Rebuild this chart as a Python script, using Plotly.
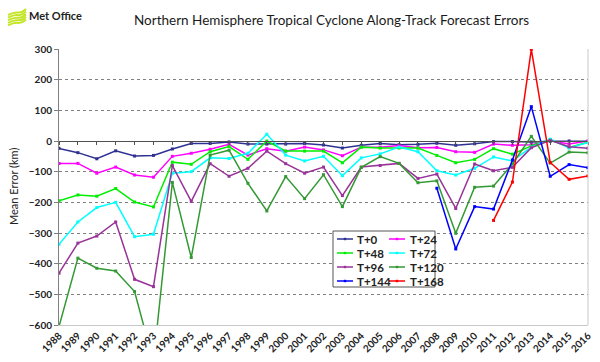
import plotly.graph_objects as go

years = [str(y) for y in range(1988, 2017)]
series_names = ["T+0", "T+24", "T+48", "T+72", "T+96", "T+120", "T+144", "T+168"]
series_colors = ["#2E3192", "#FF00FF", "#00EE00", "#00FFFF", "#993399", "#339933", "#0000FF", "#FF0000"]

t0 = [-24, -38, -58, -32, -49, -47, -26, -8, -8, -3, -10, -10, -10, -8, -13, -23, -14, -8, -12, -11,
      -7, -14, -9, -2, -2, -3, -1, 0, -1]
t24 = [-73, -73, -105, -85, -111, -118, -50, -40, -27, -11, -46, -25, -33, -20, -29, -48, -20, -20, -15, -22,
       -21, -35, -37, -10, -14, -12, 1, -10, 0]
t48 = [-195, -176, -180, -155, -199, -215, -69, -76, -35, -18, -60, 0, -33, -33, -33, -71, -20, -23, -23, -23,
       -47, -71, -60, -25, -43, -16, 5, -21, -4]
t72 = [-337, -264, -217, -200, -312, -304, -105, -100, -55, -57, -40, 22, -46, -65, -50, -113, -55, -42, -20, -35,
       -97, -111, -89, -52, -65, -20, 6, -23, -5]
t96 = [-431, -333, -310, -264, -451, -475, -80, -197, -74, -115, -89, -33, -74, -105, -85, -178, -85, -80, -73, -122,
       -108, -220, -75, -97, -86, -22, 2, -19, -24]
t120 = [-605, -382, -415, -424, -491, -720, -135, -380, -46, -30, -138, -228, -116, -188, -110, -214, -86, -51, -73, -136,
        -130, -301, -151, -147, -75, 15, -72, -36, -38]
t144 = [None] * 20 + [-154, -352, -214, -222, -62, 112, -115, -77, -87]
t168 = [None] * 23 + [-259, -134, 299, -70, -125, -114]
series_values = [t0, t24, t48, t72, t96, t120, t144, t168]

y_ticks = list(range(-600, 301, 100))

title_text = "Northern Hemisphere Tropical Cyclone Along-Track Forecast Errors"
y_title = "Mean Error (km)"
logo_text = "Met Office"

# pixel geometry of the plot area
W, H = 600, 362
L, R, T, B = 59, 588, 49, 325


def px(x):
    return (x - L) / (R - L)


def py(y):
    return (B - y) / (B - T)


FONT = "Lato, 'Open Sans', sans-serif"

fig = go.Figure()
for i, (name, vals, col) in enumerate(zip(series_names, series_values, series_colors)):
    fig.add_trace(go.Scatter(
        x=years, y=vals, name=name, mode="lines+markers",
        line=dict(color=col, width=1.5),
        marker=dict(color=col, size=3, symbol="square"),
        xaxis="x2" if i == len(series_names) - 1 else "x",
        connectgaps=False, showlegend=False, cliponaxis=True,
    ))

shapes = []
annotations = []

# right border of plot area
shapes.append(dict(type="line", xref="paper", yref="paper", x0=1, x1=1, y0=0, y1=1,
                   line=dict(color="#C8C8C8", width=1)))

# manual legend (2 columns x 4 rows)
shapes.append(dict(type="rect", xref="paper", yref="paper", layer="above",
                   x0=px(333), x1=px(435), y0=py(287), y1=py(231),
                   fillcolor="white", line=dict(color="#555555", width=1)))
row_y = [239, 253, 267, 281]
col_x = [(337, 353, 355), (389, 405, 408)]
for i, (name, col) in enumerate(zip(series_names, series_colors)):
    r, c = divmod(i, 2)
    x0, x1, xt = col_x[c]
    yy = row_y[r]
    shapes.append(dict(type="line", xref="paper", yref="paper", layer="above",
                       x0=px(x0), x1=px(x1), y0=py(yy), y1=py(yy),
                       line=dict(color=col, width=1.5)))
    shapes.append(dict(type="rect", xref="paper", yref="paper", layer="above",
                       x0=px((x0 + x1) / 2 - 1.2), x1=px((x0 + x1) / 2 + 1.2),
                       y0=py(yy + 1.2), y1=py(yy - 1.2),
                       fillcolor=col, line=dict(width=0)))
    annotations.append(dict(text=name, xref="paper", yref="paper", x=px(xt), y=py(yy),
                            xanchor="left", yanchor="middle", showarrow=False,
                            font=dict(family=FONT, size=11.5, color="#222222", weight="bold")))

# Met Office logo
wave_col = "#C5E52B"
for k in range(5):
    yo = 11 + k * 2.6
    path = (f"M {px(8)},{py(yo + 4)} Q {px(14)},{py(yo + 1)} {px(18)},{py(yo + 1.5)} "
            f"T {px(26)},{py(yo - 2)}")
    shapes.append(dict(type="path", xref="paper", yref="paper", path=path,
                       line=dict(color=wave_col, width=2)))
annotations.append(dict(text=logo_text, xref="paper", yref="paper", x=px(27), y=py(16),
                        xanchor="left", yanchor="middle", showarrow=False,
                        font=dict(family="'Liberation Sans Narrow', " + FONT, size=11,
                                  color="#222222", weight="bold")))

# title
annotations.append(dict(text=title_text, xref="paper", yref="paper", x=px(331), y=py(20),
                        xanchor="center", yanchor="middle", showarrow=False,
                        font=dict(family=FONT, size=13.5, color="#1A1A1A")))
# y-axis title
annotations.append(dict(text=y_title, xref="paper", yref="paper", x=px(13), y=py(187),
                        xanchor="center", yanchor="middle", showarrow=False, textangle=-90,
                        font=dict(family=FONT, size=11, color="#222222")))

zero_pos = (0 - y_ticks[0]) / (y_ticks[-1] - y_ticks[0])

fig.update_layout(
    width=W, height=H,
    margin=dict(l=L, r=W - R, t=T, b=H - B, autoexpand=False),
    paper_bgcolor="white", plot_bgcolor="white",
    showlegend=False,
    font=dict(family=FONT, color="#222222"),
    xaxis=dict(type="category", categoryorder="array", categoryarray=years,
               range=[0, len(years) - 1], tickangle=-45, automargin=False,
               tickfont=dict(family=FONT, size=10, color="#222222", weight="bold"),
               showgrid=False, zeroline=False, showline=True, linecolor="#C8C8C8",
               linewidth=1, ticks="", fixedrange=True),
    xaxis2=dict(type="category", categoryorder="array", categoryarray=years,
                range=[0, len(years) - 1], overlaying="x", anchor="free",
                position=zero_pos, side="bottom", automargin=False,
                showticklabels=False, showgrid=False, zeroline=False,
                showline=True, linecolor="#505050", linewidth=1,
                ticks="outside", ticklen=3, tickcolor="#505050", tickwidth=1),
    yaxis=dict(range=[y_ticks[0], y_ticks[-1]], tickvals=y_ticks, automargin=False,
               tickfont=dict(family=FONT, size=10, color="#222222", weight="bold"),
               showgrid=True, gridcolor="#808080", griddash="dot", gridwidth=1,
               zeroline=False, showline=True, linecolor="#808080", linewidth=1,
               ticks="outside", ticklen=4, tickcolor="#808080"),
    shapes=shapes, annotations=annotations,
)

fig.write_html("out.html", config={"displayModeBar": False},
               post_script="document.body.style.margin='0px';")
